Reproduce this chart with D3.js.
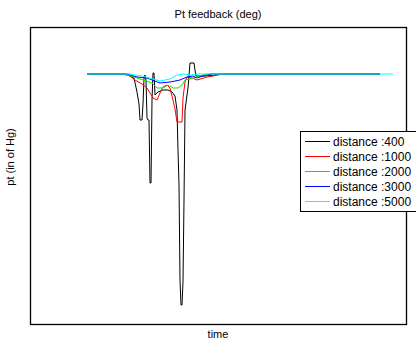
<!DOCTYPE html>
<html>
<head>
<meta charset="utf-8">
<script src="https://cdn.jsdelivr.net/npm/d3@7"></script>
<style>
  body { margin: 0; background: #fff; }
  text { font-family: "Liberation Sans", Arial, sans-serif; }
</style>
</head>
<body>
<script>
// time offsets and pt deviation (baseline = 0)
var t400 = [0, 33, 41, 47, 50, 52, 53, 55, 56, 57, 58, 59, 60, 61, 62, 63, 64, 65, 66, 67, 68, 71, 76, 81, 85, 88, 90, 91, 92, 93, 94, 95, 96, 97, 98, 100, 101, 103, 107, 108, 109, 118, 128, 138, 293];
var v400 = [0, 0, -0.1, -0.4, -1.8, -3.0, -4.6, -4.6, -3.0, -0.4, -0.1, -0.6, -4.4, -4.6, -4.6, -10.9, -10.9, -2.6, 0.1, 0.1, -2.1, -1.8, -1.6, -1.6, -1.8, -2.2, -3.6, -7.6, -11.1, -20.6, -23.1, -23.1, -20.8, -12.6, -3.6, -2.1, -1.4, 1.1, 1.1, 0.4, -0.2, -0.2, -0.1, 0, 0];

var t1000 = [0, 40, 48, 55, 60, 66, 70, 73, 76, 80, 83, 85, 88, 90, 95, 96, 98, 100, 105, 110, 120, 126, 135, 293];
var v1000 = [0, 0, -0.6, -1.0, -1.4, -2.4, -2.6, -1.9, -1.3, -1.1, -1.4, -2.2, -3.5, -4.8, -4.8, -2.4, -0.8, -0.3, -0.4, -0.6, -0.3, -0.2, 0, 0];

var t2000 = [0, 38, 50, 56, 65, 70, 76, 81, 86, 91, 95, 98, 106, 112, 120, 293];
var v2000 = [0, 0, -0.4, -0.6, -0.9, -1.4, -1.4, -1.1, -1.4, -1.4, -1.1, -0.6, -0.4, -0.2, 0, 0];

var t3000 = [0, 40, 50, 60, 73, 83, 93, 100, 106, 110, 116, 124, 293];
var v3000 = [0, 0, -0.3, -0.4, -0.9, -0.8, -0.6, -0.3, -0.2, -0.4, -0.2, 0, 0];

var t5000 = [0, 42, 55, 66, 73, 83, 90, 96, 103, 110, 306];
var v5000 = [0, 0, -0.2, -0.5, -0.7, -0.5, -0.1, 0, -0.1, 0, 0];

var seriesNames = ["distance :400", "distance :1000", "distance :2000", "distance :3000", "distance :5000"];
var seriesColors = ["#000000", "#ff0000", "#00ee00", "#0000ff", "#00ffff"];

var width = 416, height = 341;
var margin = {left: 30, right: 10, top: 27, bottom: 17};

var svg = d3.select("body").append("svg").attr("width", width).attr("height", height);

var x = d3.scaleLinear().domain([-57, 319]).range([margin.left, width - margin.right]);
var y = d3.scaleLinear().domain([-25, 4.7]).range([height - margin.bottom, margin.top]);

var line = d3.line()
    .x(function(d){ return x(d[0]); })
    .y(function(d){ return y(d[1]); });

var all = [[t400, v400], [t1000, v1000], [t2000, v2000], [t3000, v3000], [t5000, v5000]];

var chartGroup = svg.append("g");

// axes frame, no tick labels
chartGroup.append("rect")
    .attr("x", margin.left + 0.5)
    .attr("y", margin.top + 0.5)
    .attr("width", width - margin.right - margin.left)
    .attr("height", height - margin.bottom - margin.top)
    .attr("fill", "none")
    .attr("stroke", "#000")
    .attr("stroke-width", 1.3);

all.forEach(function(s, i){
    var pts = s[0].map(function(t, j){ return [t, s[1][j]]; });
    chartGroup.append("path")
        .attr("fill", "none")
        .attr("stroke", seriesColors[i])
        .attr("stroke-width", 1)
        .attr("d", line(pts));
});

svg.append("text")
    .attr("x", (margin.left + width - margin.right) / 2)
    .attr("y", 18)
    .attr("text-anchor", "middle")
    .style("font-size", "11px")
    .text("Pt feedback (deg)");

svg.append("text")
    .attr("x", (margin.left + width - margin.right) / 2)
    .attr("y", 338)
    .attr("text-anchor", "middle")
    .style("font-size", "11px")
    .text("time");

svg.append("text")
    .attr("transform", "rotate(-90)")
    .attr("x", -157)
    .attr("y", 14)
    .attr("text-anchor", "middle")
    .style("font-size", "11px")
    .text("pt (in of Hg)");

// legend
var legend = svg.append("g").attr("transform", "translate(300,131)");
legend.append("rect")
    .attr("x", 0.5).attr("y", 0.5)
    .attr("width", 125).attr("height", 80)
    .attr("fill", "#fff")
    .attr("stroke", "#000");

seriesNames.forEach(function(n, i){
    var ly = 10.5 + i * 15;
    legend.append("line")
        .attr("x1", 5).attr("x2", 30)
        .attr("y1", ly).attr("y2", ly)
        .attr("stroke", seriesColors[i]);
    legend.append("text")
        .attr("x", 33).attr("y", ly + 4)
        .style("font-size", "12px")
        .text(n);
});
</script>
</body>
</html>
